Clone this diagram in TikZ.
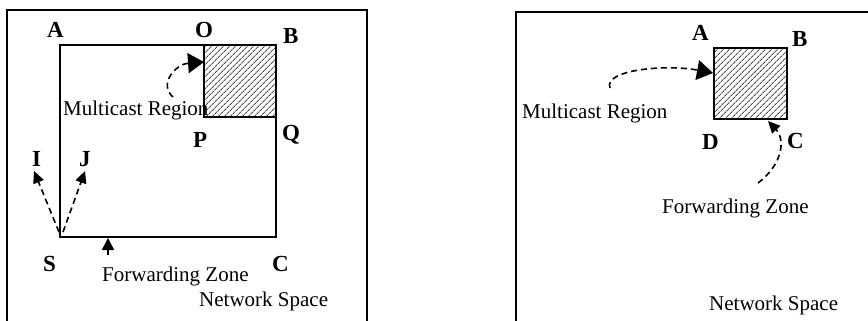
\documentclass[tikz,border=0pt]{standalone}
\usepackage{fontspec}
\setmainfont{Liberation Serif}
\usetikzlibrary{arrows.meta,patterns.meta}
\begin{document}
\begin{tikzpicture}[x=1pt,y=-1pt,
  lbl/.style={font=\fontsize{23}{27}\selectfont\bfseries,anchor=base west,inner sep=0pt},
  txt/.style={font=\fontsize{21}{25}\selectfont,anchor=base west,inner sep=0pt},
  frame/.style={line width=1.6pt},
  box/.style={line width=1.6pt},
  hatch/.style={box,pattern={Lines[angle=45,distance=4pt,line width=0.9pt]},pattern color=black!70},
  dasharrow/.style={line width=1.6pt,dash pattern=on 6pt off 4pt,-{Triangle[length=16pt,width=20pt]}},
  smallarrow/.style={line width=1.6pt,dash pattern=on 6pt off 4pt,-{Triangle[length=12pt,width=11pt]}},
  solidarrow/.style={line width=1.6pt,-{Triangle[length=12pt,width=12pt]}}
]
\useasboundingbox (0,0) rectangle (868,321);
% ---------- left panel ----------
\draw[frame] (7,321) -- (7,10) -- (367,10) -- (367,321);
\coordinate (lA) at (60,45);
\coordinate (lC) at (276,237);
\draw[box] (lA) rectangle (lC);
\draw[hatch] (204,45) rectangle (276,117);
\node[lbl] (tA) at (47,38) {A};
\node[lbl] (tO) at (195,38) {O};
\node[lbl] (tB) at (283,44) {B};
\node[lbl] (tQ) at (282,140) {Q};
\node[lbl] (tP) at (193,147) {P};
\node[lbl] (tI) at (32,166) {I};
\node[lbl] (tJ) at (79,166) {J};
\node[lbl] (tS) at (43,271) {S};
\node[lbl] (tC) at (272,271) {C};
\node[txt] (mr1) at (63,116) {Multicast Region};
\node[txt] (fz1) at (102,281) {Forwarding Zone};
\node[txt] (ns1) at (199,306) {Network Space};
\coordinate (m1s) at (173,97);
\coordinate (m1e) at (204,62);
\draw[dasharrow] (m1s) .. controls (158,84) and (176,64) .. (m1e);
\coordinate (iS) at (59,232);
\coordinate (iE) at (34,171);
\coordinate (jS) at (63,232);
\coordinate (jE) at (85,171);
\draw[smallarrow] (iS) -- (iE);
\draw[smallarrow] (jS) -- (jE);
\coordinate (fS) at (108,255);
\coordinate (fE) at (108,238);
\draw[solidarrow] (fS) -- (fE);
% ---------- right panel ----------
\draw[frame] (516,321) -- (516,12) -- (868,12);
\draw[hatch] (714,48) rectangle (787,119);
\node[lbl] (rA) at (692,41) {A};
\node[lbl] (rB) at (792,47) {B};
\node[lbl] (rD) at (702,149) {D};
\node[lbl] (rC) at (787,148) {C};
\node[txt] (mr2) at (522,118) {Multicast Region};
\node[txt] (fz2) at (662,213) {Forwarding Zone};
\node[txt] (ns2) at (709,310) {Network Space};
\coordinate (m2s) at (610,88);
\coordinate (m2e) at (713,73);
\draw[dasharrow] (m2s) .. controls (603,70) and (665,64) .. (m2e);
\coordinate (f2s) at (758,183);
\coordinate (f2e) at (768,121);
\draw[smallarrow] (f2s) .. controls (782,165) and (786,140) .. (f2e);
\end{tikzpicture}
\end{document}
